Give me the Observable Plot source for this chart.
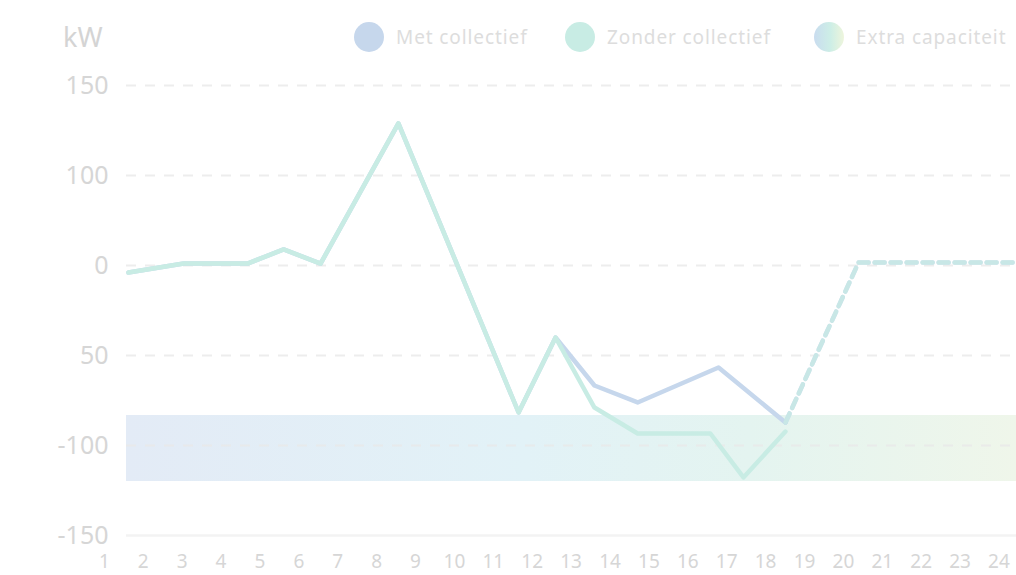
<!DOCTYPE html>
<html>
<head>
<meta charset="utf-8">
<script src="https://cdn.jsdelivr.net/npm/d3@7"></script>
<script src="https://cdn.jsdelivr.net/npm/@observablehq/plot@0.6"></script>
<style>
  html, body { margin: 0; padding: 0; background: #fff; overflow: hidden; }
  body { width: 1016px; height: 575px; font-family: "Noto Sans", sans-serif; }
  #header { position: relative; height: 60px; width: 1016px; overflow: hidden; white-space: nowrap; }
  #unit { position: absolute; left: 63px; top: 17px; font-size: 27px; line-height: 40px; color: #d4d4d4; }
  .item { position: absolute; top: 22px; height: 30px; display: flex; align-items: center; }
  .sw { width: 30px; height: 30px; border-radius: 50%; margin-right: 12px; flex: none; }
  .lab { font-size: 19px; color: #dddddd; letter-spacing: 0.9px; }
</style>
</head>
<body>
<div id="header"></div>
<div id="chart"></div>
<script>
// ---- data ----
const unitLabel = "kW";
const seriesNames = ["Met collectief", "Zonder collectief", "Extra capaciteit"];
const seriesColors = ["#c6d7ec", "#c8ece4"];
const bandColors = ["#e3ebf6", "#e2f2f7", "#e4f4f0", "#eff6ea"];

const hours = [1,2,3,4,5,6,7,8,9,10,11,12,13,14,15,16,17,18,19,20,21,22,23,24];
const hourLabels = ["1","2","3","4","5","6","7","8","9","10","11","12","13","14","15","16","17","18","19","20","21","22","23","24"];
const xDomain = [1.57, 24.45];

const yTicks = [150, 90, 30, -30, -90, -150];
const yTickLabels = ["150", "100", "0", "50", "-100", "-150"];
const yDomain = [-150, 150];

const metX = [1.62, 3.04, 4.68, 5.61, 6.56, 8.56, 11.65, 12.6, 13.6, 14.71, 16.79, 18.51];
const metY = [25.3, 31.3, 31.3, 40.7, 31.3, 124.7, -68, -18, -50, -61.3, -38, -74.7];
const zonderX = [1.62, 3.04, 4.68, 5.61, 6.56, 8.56, 11.65, 12.6, 13.6, 14.71, 16.58, 17.43, 18.51];
const zonderY = [25.3, 31.3, 31.3, 40.7, 31.3, 124.7, -68, -18, -64.7, -82, -82, -111.3, -80.7];
const forecastX = [18.51, 20.39, 24.45];
const forecastY = [-74.7, 32, 32];
const bandLow = -114, bandHigh = -70;

// ---- header (unit + legend) ----
const header = document.getElementById("header");
const unit = document.createElement("div");
unit.id = "unit"; unit.textContent = unitLabel; header.appendChild(unit);
const legendLeft = [354, 565, 814];
const swatchFill = [seriesColors[0], seriesColors[1], "linear-gradient(90deg, #c9dcef, #cdeee6 55%, #eef5dc)"];
seriesNames.forEach((name, i) => {
  const it = document.createElement("div");
  it.className = "item"; it.style.left = legendLeft[i] + "px";
  const sw = document.createElement("div"); sw.className = "sw"; sw.style.background = swatchFill[i];
  const lb = document.createElement("span"); lb.className = "lab"; lb.textContent = name;
  it.appendChild(sw); it.appendChild(lb); header.appendChild(it);
});

// ---- chart ----
const met = metX.map((x, i) => ({x, y: metY[i]}));
const zonder = zonderX.map((x, i) => ({x, y: zonderY[i]}));
const forecast = forecastX.map((x, i) => ({x, y: forecastY[i]}));

const plot = Plot.plot({
  width: 1016,
  height: 515,
  marginLeft: 126,
  marginRight: 0,
  marginTop: 25,
  marginBottom: 40,
  style: { fontFamily: "'Noto Sans', sans-serif", color: "#d6d6d6", background: "transparent", overflow: "visible" },
  x: { type: "linear", domain: xDomain },
  y: { type: "linear", domain: yDomain },
  marks: [
    Plot.rect([{lo: bandLow, hi: bandHigh}], { y1: "lo", y2: "hi", fill: "url(#extraGrad)" }),
    Plot.ruleY(yTicks.slice(0, -1), { stroke: "#e9e9e9", strokeWidth: 2, strokeDasharray: "10,9", strokeOpacity: 0.8 }),
    Plot.ruleY(yTicks.slice(-1), { stroke: "#f3f3f3", strokeWidth: 2.5 }),
    Plot.line(met, { x: "x", y: "y", stroke: seriesColors[0], strokeWidth: 4.5, strokeLinejoin: "round" }),
    Plot.line(zonder, { x: "x", y: "y", stroke: seriesColors[1], strokeWidth: 4.5, strokeLinejoin: "round" }),
    Plot.line(forecast, { x: "x", y: "y", stroke: seriesColors[0], strokeWidth: 4.5, strokeDasharray: "10,6" }),
    Plot.line(forecast, { x: "x", y: "y", stroke: seriesColors[1], strokeWidth: 4.5, strokeDasharray: "10,6", strokeOpacity: 0.75 }),
    Plot.axisY(yTicks, { tickSize: 0, tickPadding: 18, fontSize: 25, label: null, tickFormat: (d, i) => yTickLabels[i] }),
    Plot.axisX(hours, { tickSize: 0, tickPadding: 19, fontSize: 19, label: null, tickFormat: (d, i) => hourLabels[i] })
  ]
});

const svg = d3.select(plot);
const defs = svg.insert("defs", ":first-child");
const grad = defs.append("linearGradient").attr("id", "extraGrad")
  .attr("x1", "0%").attr("x2", "100%").attr("y1", "0%").attr("y2", "0%");
[0, 0.45, 0.7, 1].forEach((o, i) => grad.append("stop").attr("offset", o).attr("stop-color", bandColors[i]));

document.getElementById("chart").appendChild(plot);
</script>
</body>
</html>
